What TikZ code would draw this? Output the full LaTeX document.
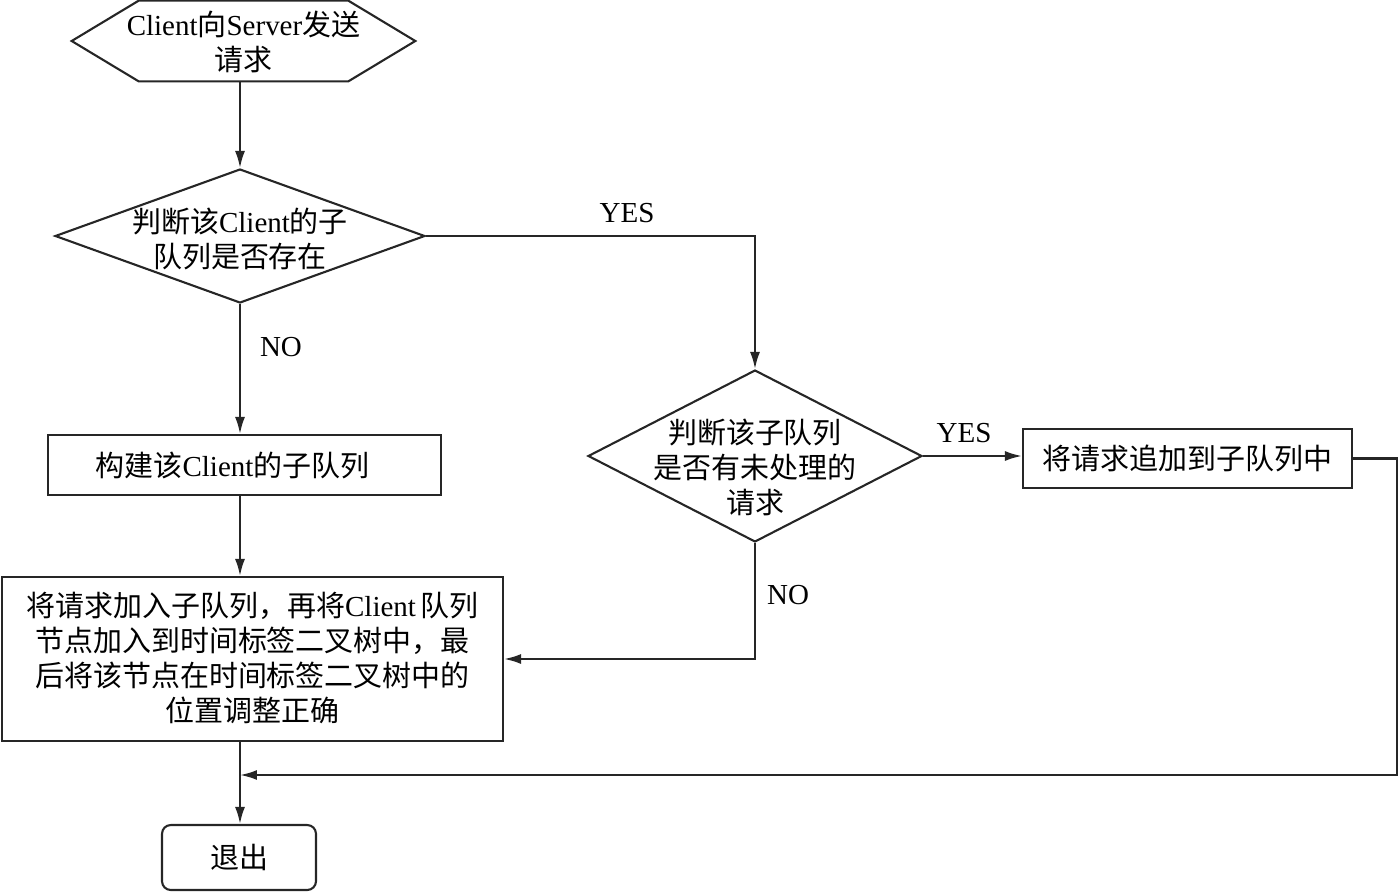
\documentclass[tikz,border=0pt]{standalone}
\usepackage{fontspec}
\setmainfont{Liberation Serif}
\newfontfamily\cjk{Noto Sans CJK SC}
\usetikzlibrary{shapes.geometric,arrows.meta,calc}
\newcommand\zh[1]{{\cjk #1}}
\tikzset{
  base/.style={draw=black!85, line width=1.2pt, inner sep=0pt},
  boxnode/.style={base, rectangle},
  dia/.style={base, diamond},
  txt/.style={align=center, inner sep=0pt, font=\fontsize{16.5pt}{19.9pt}\selectfont},
  lbl/.style={inner sep=0pt, font=\fontsize{16.5pt}{19.9pt}\selectfont},
  arr/.style={draw=black!85, line width=1.2pt, -{Latex[length=0.34cm,width=0.2cm]}},
  ln/.style={draw=black!85, line width=1.2pt}
}
\begin{document}
\begin{tikzpicture}[x=0.02cm,y=-0.02cm]
\useasboundingbox (0,0) rectangle (1400,893);
% hexagon
\node[inner sep=0pt, minimum width=6.86cm, minimum height=1.6cm] (h) at (243.5,41) {};
\draw[ln] (h.west) -- ($(h.north west)+(67,0)$) -- ($(h.north east)+(-67,0)$) -- (h.east)
  -- ($(h.south east)+(-67,0)$) -- ($(h.south west)+(67,0)$) -- cycle;
\node[txt] at ($(h)+(0,1)$) {Client\zh{向}Server\zh{发送}\\\zh{请求}};
% decision 1
\node[dia, minimum width=7.4cm, minimum height=2.68cm] (d1) at (240,236) {};
\node[txt] at ($(d1)+(0,3)$) {\zh{判断该}Client\zh{的子}\\\zh{队列是否存在}};
% box 1
\node[boxnode, minimum width=7.86cm, minimum height=1.2cm] (b1) at (244.5,465) {};
\node[txt] at ($(b1)+(-12,0)$) {\zh{构建该}Client\zh{的子队列}};
% box 2
\node[boxnode, minimum width=10.02cm, minimum height=3.28cm] (b2) at (252.5,659) {};
\node[txt] at ($(b2)+(0,-1)$) {\zh{将请求加入子队列，再将}Client\,\zh{队列}\\\zh{节点加入到时间标签二叉树中，最}\\\zh{后将该节点在时间标签二叉树中的}\\\zh{位置调整正确}};
% exit
\node[boxnode, rounded corners=5pt, minimum width=3.08cm, minimum height=1.3cm] (ex) at (239,857.5) {};
\node[txt] at (ex) {\zh{退出}};
% decision 2
\node[dia, minimum width=6.68cm, minimum height=3.44cm] (d2) at (755,456) {};
\node[txt] at ($(d2)+(0,11)$) {\zh{判断该子队列}\\\zh{是否有未处理的}\\\zh{请求}};
% box 3
\node[boxnode, minimum width=6.58cm, minimum height=1.18cm] (b3) at (1187.5,458.5) {};
\node[txt] at (b3) {\zh{将请求追加到子队列中}};
% coordinates
\coordinate (r) at (1397,775);
\coordinate (j) at (240,775);
% connectors
\draw[arr] (h.south -| d1.north) -- (d1.north);
\draw[arr] (d1.south) -- (d1.south |- b1.north);
\draw[arr] (b1.south -| d1.south) -- (b2.north -| d1.south);
\draw[arr] (b2.south -| d1.south) -- (ex.north -| d1.south);
\draw[arr] (d1.east) -| (d2.north);
\draw[arr] (d2.east) -- (b3.west |- d2.east);
\draw[arr] (b3.east) -| (r) -- (j);
\draw[arr] (d2.south) |- (b2.east);
% labels
\node[lbl] (yes1) at (627,213) {YES};
\node[lbl] (no1) at (281,347) {NO};
\node[lbl] (yes2) at (964,433) {YES};
\node[lbl] (no2) at (788,595) {NO};
\end{tikzpicture}
\end{document}
